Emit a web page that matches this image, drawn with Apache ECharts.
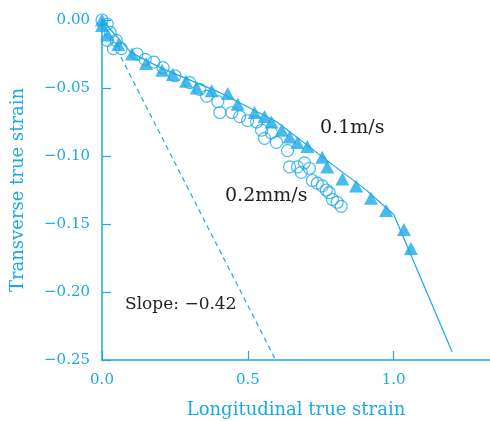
<!DOCTYPE html>
<html>
<head>
<meta charset="utf-8">
<script src="https://cdn.jsdelivr.net/npm/echarts@6/dist/echarts.min.js"></script>
<style>
  html, body { margin: 0; padding: 0; background: #fff; }
  #chart { width: 490px; height: 421px; }
</style>
</head>
<body>
<div id="chart"></div>
<script>
// Strain paths: longitudinal (x) vs transverse (y) true strain
var fast = [ // 0.1 m/s, triangles
  [0, 0], [0.0, -0.004], [0.02, -0.011], [0.056, -0.018], [0.103, -0.025],
  [0.151, -0.032], [0.206, -0.037], [0.243, -0.040], [0.288, -0.045],
  [0.325, -0.050], [0.376, -0.052], [0.431, -0.054], [0.465, -0.062],
  [0.523, -0.068], [0.557, -0.071], [0.581, -0.075], [0.616, -0.081],
  [0.643, -0.086], [0.670, -0.090], [0.704, -0.093], [0.755, -0.101],
  [0.772, -0.108], [0.824, -0.117], [0.871, -0.122], [0.922, -0.131],
  [0.974, -0.140], [1.035, -0.154], [1.059, -0.168]
];
var slow = [ // 0.2 mm/s, open circles
  [0, 0], [0.018, -0.003], [0.028, -0.009], [0.018, -0.015], [0.049, -0.015],
  [0.039, -0.021], [0.066, -0.021], [0.120, -0.025], [0.148, -0.029],
  [0.178, -0.031], [0.209, -0.035], [0.250, -0.041], [0.301, -0.046],
  [0.335, -0.051], [0.359, -0.056], [0.397, -0.060], [0.404, -0.068],
  [0.445, -0.068], [0.472, -0.071], [0.499, -0.074], [0.530, -0.075],
  [0.547, -0.081], [0.557, -0.087], [0.581, -0.083], [0.598, -0.090],
  [0.636, -0.096], [0.643, -0.108], [0.670, -0.108], [0.683, -0.112],
  [0.694, -0.105], [0.711, -0.109], [0.721, -0.118], [0.738, -0.120],
  [0.755, -0.122], [0.769, -0.125], [0.779, -0.127], [0.790, -0.132],
  [0.806, -0.134], [0.820, -0.137]
];
var fitCurve = [ // trend through the 0.1 m/s data
  [0, 0], [0.1, -0.024], [0.2, -0.035], [0.4, -0.053], [0.6, -0.075],
  [0.8, -0.108], [0.9, -0.124], [1.0, -0.143], [1.2, -0.244]
];
var slope = -0.42;
var slopeX = [0.065, 0.595];
var xTicks = [0, 0.5, 1.0];
var yTicks = [0, -0.05, -0.10, -0.15, -0.20, -0.25];

var slopeLine = slopeX.map(function (x) { return [x, slope * x]; });

var cyan = '#1aa9e6';
var serif = '"DejaVu Serif", "Liberation Serif", serif';
function minus(s) { return s.replace('-', '\u2212'); }

var chart = echarts.init(document.getElementById('chart'));
chart.setOption({
  animation: false,
  grid: { left: 102, right: 0, top: 20, bottom: 61, containLabel: false, outerBoundsMode: 'none' },
  xAxis: {
    type: 'value', min: xTicks[0], max: 1.33, interval: xTicks[1] - xTicks[0],
    name: 'Longitudinal true strain', nameLocation: 'middle', nameGap: 41,
    nameTextStyle: { color: cyan, fontFamily: serif, fontSize: 18 },
    axisLine: { onZero: false, lineStyle: { color: cyan, width: 1.5 } },
    axisTick: { inside: true, length: 9, lineStyle: { color: cyan, width: 1.2 } },
    axisLabel: {
      color: cyan, fontFamily: serif, fontSize: 15, margin: 13,
      showMaxLabel: false,
      formatter: function (v) { return xTicks.indexOf(v) >= 0 ? v.toFixed(1) : ''; }
    },
    splitLine: { show: false }
  },
  yAxis: {
    type: 'value', min: yTicks[yTicks.length - 1], max: yTicks[0], interval: 0.05,
    name: 'Transverse true strain', nameLocation: 'middle', nameGap: 75,
    nameTextStyle: { color: cyan, fontFamily: serif, fontSize: 18 },
    axisLine: { onZero: false, lineStyle: { color: cyan, width: 1.5 } },
    axisTick: { inside: true, length: 9, lineStyle: { color: cyan, width: 1.2 } },
    axisLabel: {
      color: cyan, fontFamily: serif, fontSize: 15, margin: 12,
      formatter: function (v) { return minus(v.toFixed(2)); }
    },
    splitLine: { show: false }
  },
  series: [
    {
      type: 'line', data: slopeLine, showSymbol: false, silent: true,
      lineStyle: { color: cyan, width: 1.2, type: [5, 4] }
    },
    {
      type: 'line', data: fitCurve, showSymbol: false, silent: true,
      lineStyle: { color: cyan, width: 1.2 }
    },
    {
      type: 'scatter', data: slow, symbol: 'circle', symbolSize: 12,
      clip: false,
      itemStyle: { color: 'rgba(255,255,255,0)', borderColor: cyan, borderWidth: 1.2 }
    },
    {
      type: 'scatter', data: fast, symbol: 'triangle', symbolSize: [14, 13],
      clip: false,
      itemStyle: { color: cyan }
    }
  ],
  graphic: [
    { type: 'text', left: 320, top: 119,
      style: { text: '0.1m/s', fill: '#222', font: '19px ' + serif } },
    { type: 'text', left: 225, top: 187,
      style: { text: '0.2mm/s', fill: '#222', font: '19px ' + serif } },
    { type: 'text', left: 125, top: 296,
      style: { text: 'Slope: \u22120.42', fill: '#222', font: '17px ' + serif } }
  ]
});
</script>
</body>
</html>
